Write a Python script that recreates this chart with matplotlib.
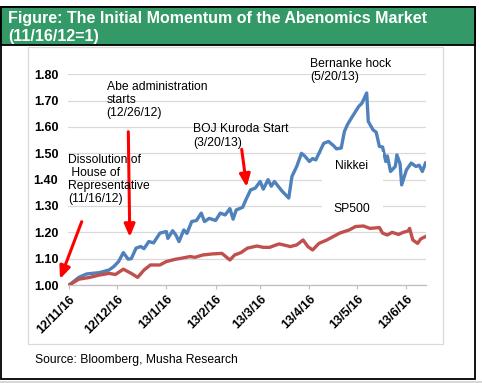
import numpy as np
import pandas as pd
import matplotlib
matplotlib.use("Agg")
import matplotlib.pyplot as plt
import matplotlib.dates as mdates
from matplotlib.patches import Rectangle

plt.rcParams['font.family'] = ['Liberation Sans', 'DejaVu Sans']

# index, 11/16/12 = 1
nikkei_dates = ["2012-11-16", "2012-11-22", "2012-11-27", "2012-12-05", "2012-12-11",
                "2012-12-14", "2012-12-17", "2012-12-20", "2012-12-23", "2012-12-25",
                "2012-12-28", "2012-12-31", "2013-01-02", "2013-01-05", "2013-01-08",
                "2013-01-12", "2013-01-16", "2013-01-17", "2013-01-20", "2013-01-22",
                "2013-01-24", "2013-01-27", "2013-01-29", "2013-02-01", "2013-02-04",
                "2013-02-07", "2013-02-09", "2013-02-12", "2013-02-16", "2013-02-19",
                "2013-02-22", "2013-02-25", "2013-02-27", "2013-03-01", "2013-03-05",
                "2013-03-07", "2013-03-10", "2013-03-13", "2013-03-16", "2013-03-18",
                "2013-03-21", "2013-03-23", "2013-03-25", "2013-03-28", "2013-03-30",
                "2013-04-03", "2013-04-05", "2013-04-08", "2013-04-11", "2013-04-13",
                "2013-04-16", "2013-04-18", "2013-04-20", "2013-04-25", "2013-04-28",
                "2013-05-01", "2013-05-03", "2013-05-06", "2013-05-08", "2013-05-10",
                "2013-05-12", "2013-05-15", "2013-05-17", "2013-05-19", "2013-05-22",
                "2013-05-23", "2013-05-26", "2013-05-28", "2013-05-30", "2013-06-01",
                "2013-06-03", "2013-06-04", "2013-06-06", "2013-06-09", "2013-06-10",
                "2013-06-12", "2013-06-13", "2013-06-16", "2013-06-19", "2013-06-22",
                "2013-06-24", "2013-06-26", "2013-06-28"]
nikkei = [1.000, 1.029, 1.042, 1.047, 1.057, 1.070, 1.089, 1.123, 1.098, 1.100,
          1.140, 1.146, 1.138, 1.165, 1.160, 1.197, 1.203, 1.177, 1.206, 1.190,
          1.165, 1.209, 1.196, 1.241, 1.245, 1.273, 1.241, 1.253, 1.245, 1.273,
          1.266, 1.290, 1.250, 1.285, 1.295, 1.323, 1.361, 1.368, 1.393, 1.364,
          1.400, 1.375, 1.393, 1.370, 1.355, 1.330, 1.412, 1.450, 1.500, 1.490,
          1.469, 1.480, 1.475, 1.538, 1.545, 1.530, 1.517, 1.520, 1.583, 1.610,
          1.630, 1.659, 1.678, 1.690, 1.729, 1.621, 1.589, 1.580, 1.526, 1.524,
          1.469, 1.490, 1.431, 1.450, 1.494, 1.460, 1.380, 1.437, 1.463, 1.450,
          1.455, 1.431, 1.463]

sp500_dates = ["2012-11-16", "2012-11-22", "2012-11-29", "2012-12-05", "2012-12-11",
               "2012-12-15", "2012-12-20", "2012-12-25", "2012-12-29", "2013-01-02",
               "2013-01-06", "2013-01-12", "2013-01-16", "2013-01-22", "2013-01-25",
               "2013-01-31", "2013-02-03", "2013-02-08", "2013-02-14", "2013-02-20",
               "2013-02-22", "2013-02-25", "2013-02-28", "2013-03-04", "2013-03-08",
               "2013-03-14", "2013-03-18", "2013-03-22", "2013-03-26", "2013-03-28",
               "2013-04-04", "2013-04-08", "2013-04-12", "2013-04-15", "2013-04-18",
               "2013-04-22", "2013-04-27", "2013-05-01", "2013-05-05", "2013-05-11",
               "2013-05-15", "2013-05-20", "2013-05-24", "2013-05-30", "2013-06-01",
               "2013-06-04", "2013-06-07", "2013-06-11", "2013-06-14", "2013-06-17",
               "2013-06-18", "2013-06-20", "2013-06-23", "2013-06-25", "2013-06-28"]
sp500 = [1.000, 1.022, 1.029, 1.038, 1.044, 1.040, 1.060, 1.044, 1.029, 1.057,
         1.076, 1.076, 1.089, 1.098, 1.101, 1.108, 1.105, 1.114, 1.118, 1.120,
         1.110, 1.095, 1.114, 1.123, 1.140, 1.148, 1.143, 1.143, 1.152, 1.156,
         1.146, 1.152, 1.171, 1.146, 1.133, 1.158, 1.171, 1.184, 1.197, 1.209,
         1.222, 1.224, 1.215, 1.218, 1.197, 1.190, 1.200, 1.192, 1.200, 1.205,
         1.215, 1.171, 1.158, 1.175, 1.184]

tick_dates = ["2012-11-16", "2012-12-16", "2013-01-16", "2013-02-16",
              "2013-03-16", "2013-04-16", "2013-05-16", "2013-06-16"]
tick_labels = ["12/11/16", "12/12/16", "13/1/16", "13/2/16",
               "13/3/16", "13/4/16", "13/5/16", "13/6/16"]
y_ticks = [1.00, 1.10, 1.20, 1.30, 1.40, 1.50, 1.60, 1.70, 1.80]

W, H = 482, 383
fig = plt.figure(figsize=(W / 100, H / 100), dpi=100)


def fx(x):
    return x / W


def fy(y):
    return 1 - y / H


# frames and header
fig.patches.append(Rectangle((fx(1), fy(379)), fx(474), 372 / H, transform=fig.transFigure,
                             facecolor='white', edgecolor='black', lw=1.3, zorder=0))
fig.patches.append(Rectangle((fx(1), fy(44.5)), fx(474), 37.5 / H, transform=fig.transFigure,
                             facecolor='#339966', edgecolor='black', lw=1.3, zorder=1))
fig.patches.append(Rectangle((fx(28), fy(344)), fx(415), 297 / H, transform=fig.transFigure,
                             facecolor='none', edgecolor='#d9d9d9', lw=0.9, zorder=1))
fig.lines.append(plt.Line2D([0, 1], [fy(381.5), fy(381.5)], transform=fig.transFigure,
                            color='#d0d0d0', lw=1.2))

fig.text(fx(8), fy(22.7), "Figure: The Initial Momentum of the Abenomics Market",
         color='white', fontweight='bold', fontsize=11.5, va='baseline', ha='left')
fig.text(fx(8), fy(40.7), "(11/16/12=1)",
         color='white', fontweight='bold', fontsize=11.5, va='baseline', ha='left')

ax = fig.add_axes([fx(68), fy(285), fx(426 - 68), (285 - 74.3) / H])

nd = pd.to_datetime(nikkei_dates)
sd = pd.to_datetime(sp500_dates)
ax.plot(nd, nikkei, color='#4f81bd', lw=2.4, zorder=3, solid_joinstyle='round')
ax.plot(sd, sp500, color='#c0504d', lw=2.4, zorder=3, solid_joinstyle='round')

start = pd.Timestamp("2012-11-16")
ax.set_xlim(start - pd.Timedelta(days=0.8), start + pd.Timedelta(days=224.3))
ax.set_ylim(1.0, 1.8)
ax.set_yticks(y_ticks)
ax.set_yticklabels([f"{v:.2f}" for v in y_ticks], fontweight='bold', fontsize=9)
ax.set_xticks(pd.to_datetime(tick_dates))
ax.set_xticklabels(tick_labels, rotation=45, ha='right', rotation_mode='anchor',
                   fontweight='bold', fontsize=9)
ax.tick_params(axis='y', length=0, pad=7)
ax.tick_params(axis='x', length=3, color='#bfbfbf', pad=3)
ax.grid(axis='y', color='#d9d9d9', lw=0.9)
ax.set_axisbelow(True)
for s in ['top', 'right', 'left']:
    ax.spines[s].set_visible(False)
ax.spines['bottom'].set_color('#bfbfbf')
ax.spines['bottom'].set_linewidth(0.9)

# white label boxes for series names
for x0, x1, y0, y1 in [(322, 383, 152, 182), (322, 383, 196, 221)]:
    fig.patches.append(Rectangle((fx(x0), fy(y1)), fx(x1 - x0), (y1 - y0) / H,
                                 transform=fig.transFigure, facecolor='white',
                                 edgecolor='none', zorder=1.5))
ax.set_zorder(1)
ax.patch.set_visible(False)

fs = 8.7
fig.text(fx(352), fy(166), "Nikkei", fontsize=fs, ha='center', va='center', zorder=5)
fig.text(fx(352), fy(208.5), "SP500", fontsize=fs, ha='center', va='center', zorder=5)

fig.text(fx(68), fy(154), "Dissolution of\n House of\nRepresentative\n(11/16/12)",
         fontsize=fs, ha='left', va='top', linespacing=1.1, zorder=5)
fig.text(fx(106.7), fy(80.7), "Abe administration\nstarts\n(12/26/12)",
         fontsize=fs, ha='left', va='top', linespacing=1.15, zorder=5)
fig.text(fx(193.3), fy(123.3), "BOJ Kuroda Start\n(3/20/13)",
         fontsize=fs, ha='left', va='top', linespacing=1.15, zorder=5)
fig.text(fx(310), fy(58), "Bernanke hock\n(5/20/13)",
         fontsize=fs, ha='left', va='top', linespacing=1.15, zorder=5)

arrows = [((81.7, 221.7), (60, 279)),
          ((128.3, 131.7), (129.8, 237)),
          ((241.7, 149.3), (246.7, 187))]
for (tx, ty), (hx, hy) in arrows:
    ax.annotate('', xy=(hx, H - hy), xytext=(tx, H - ty),
                xycoords='figure pixels', textcoords='figure pixels',
                arrowprops=dict(arrowstyle='-|>,head_length=0.75,head_width=0.32',
                                color='#ff0000', lw=2.2, mutation_scale=10,
                                shrinkA=0, shrinkB=0),
                annotation_clip=False, zorder=6)

fig.text(fx(35), fy(360), "Source: Bloomberg, Musha Research", fontsize=fs,
         ha='left', va='center')

fig.savefig("out.png", dpi=100)
